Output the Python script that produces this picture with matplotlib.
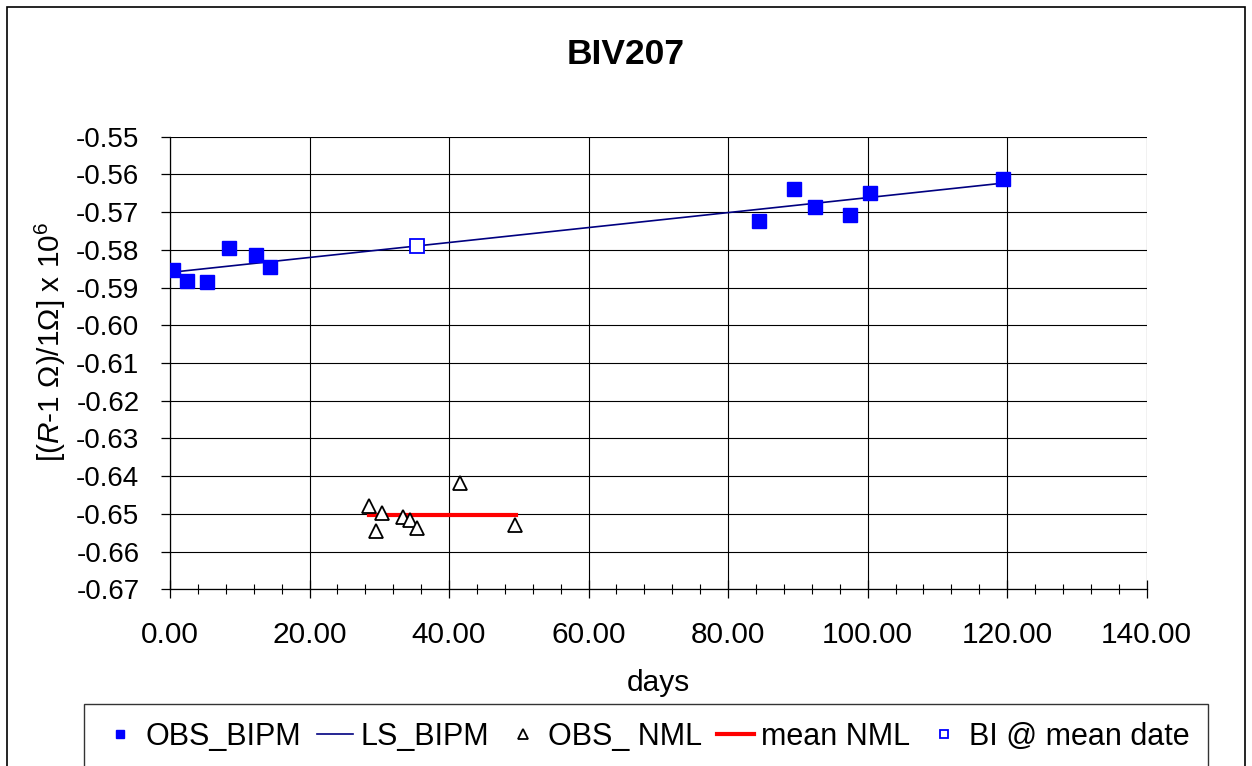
import matplotlib
matplotlib.use("Agg")
import matplotlib.pyplot as plt
from matplotlib.patches import Rectangle
from matplotlib.ticker import MultipleLocator, FormatStrFormatter

plt.rcParams['font.family'] = ['Liberation Sans', 'DejaVu Sans']
plt.rcParams['mathtext.fontset'] = 'custom'
plt.rcParams['mathtext.rm'] = 'Liberation Sans'
plt.rcParams['mathtext.it'] = 'Liberation Sans:italic'

# ---- data ----
bipm_days = [0.43, 2.44, 5.31, 8.42, 12.30, 14.36, 84.47, 89.50, 92.50, 97.50, 100.40, 119.45]
bipm_vals = [-0.58525, -0.58834, -0.5885, -0.57945, -0.5814, -0.58456,
             -0.57232, -0.5638, -0.56855, -0.5707, -0.5649, -0.5613]
ls_days = [0.43, 119.45]
ls_vals = [-0.5859, -0.5623]
nml_days = [28.47, 29.53, 30.44, 33.40, 34.40, 35.46, 41.50, 49.50]
nml_vals = [-0.64789, -0.65465, -0.64974, -0.6508, -0.65166, -0.65377, -0.6417, -0.6529]
mean_days = [28.47, 49.60]
mean_vals = [-0.6503, -0.6503]
bi_days = [35.37]
bi_vals = [-0.5790]

title = "BIV207"
xlabel = "days"
ylabel = "[($\\mathit{R}$-1 Ω)/1Ω] x 10$^{6}$"
labels = ["OBS_BIPM", "LS_BIPM", "OBS_ NML", "mean NML", "BI @ mean date"]

W, H = 1252, 766
fig = plt.figure(figsize=(W / 100, H / 100), dpi=100)
ax = fig.add_axes([170 / W, 1 - 589.3 / H, (1146.7 - 170) / W, (589.3 - 136.7) / H])

h1, = ax.plot(bipm_days, bipm_vals, linestyle='none', marker='s', markersize=9.5,
              color='#0000FF', markeredgecolor='#0000FF', zorder=5)
h2, = ax.plot(ls_days, ls_vals, color='#000080', linewidth=1.2, zorder=4)
h3, = ax.plot(nml_days, nml_vals, linestyle='none', marker='^', markersize=10,
              markerfacecolor='white', markeredgecolor='black', markeredgewidth=1.3, zorder=5)
h4, = ax.plot(mean_days, mean_vals, color='#FF0000', linewidth=3, zorder=4)
h5, = ax.plot(bi_days, bi_vals, linestyle='none', marker='s', markersize=9.5,
              markerfacecolor='white', markeredgecolor='#0000FF', markeredgewidth=1.3, zorder=6)

ax.set_xlim(0, 140)
ax.set_ylim(-0.67, -0.55)
ax.xaxis.set_major_locator(MultipleLocator(20))
ax.xaxis.set_minor_locator(MultipleLocator(4))
ax.yaxis.set_major_locator(MultipleLocator(0.01))
ax.xaxis.set_major_formatter(FormatStrFormatter('%.2f'))
ax.yaxis.set_major_formatter(FormatStrFormatter('%.2f'))
ax.grid(True, which='major', color='black', linewidth=0.8)
ax.set_axisbelow(True)
for s in ['top', 'right']:
    ax.spines[s].set_visible(False)
for s in ['left', 'bottom']:
    ax.spines[s].set_linewidth(0.9)
ax.tick_params(axis='x', which='major', direction='inout', length=13, width=0.9,
               labelsize=21.5, pad=16)
ax.tick_params(axis='x', which='minor', direction='inout', length=7, width=0.8)
ax.tick_params(axis='y', which='major', direction='out', length=6.5, width=0.9,
               labelsize=20, pad=15.5)

ax.set_xlabel(xlabel, fontsize=21.5)
ax.xaxis.set_label_coords(0.5, -(669 - 589.3) / 452.6)
ax.set_ylabel(ylabel, fontsize=21.5)
ax.yaxis.set_label_coords(-(170 - 68) / 976.7, (589.3 - 342) / 452.6)

fig.text(0.5, 1 - 55 / H, title, fontsize=25.5, fontweight='bold', ha='center', va='center')

# outer chart border
fig.patches.append(Rectangle((7 / W, -0.02), (1245 - 7) / W, 1.02 - 7 / H,
                             transform=fig.transFigure, fill=False,
                             edgecolor='black', linewidth=1.2))

leg = fig.legend([h1, h2, h3, h4, h5], labels, ncol=5, loc='upper center',
                 bbox_to_anchor=((84.7 + 1207) / 2 / W, 1 - 703.5 / H),
                 fontsize=22, frameon=True, fancybox=False, edgecolor='black',
                 handlelength=1.2, handletextpad=0.23, columnspacing=0.5,
                 markerscale=0.65, borderpad=0.6, borderaxespad=0)
leg.get_frame().set_linewidth(1.0)

fig.savefig("out.png", dpi=100)
